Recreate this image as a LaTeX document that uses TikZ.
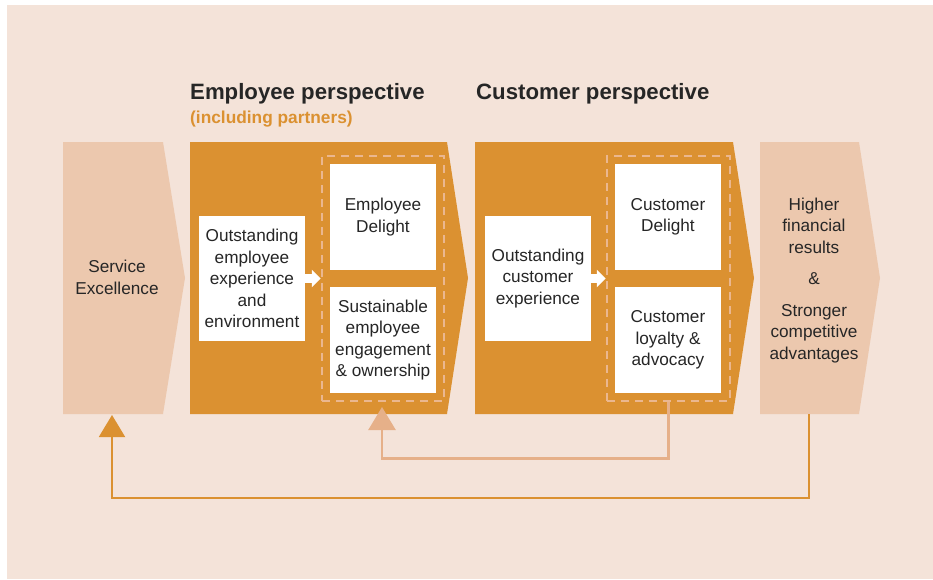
\documentclass[tikz,border=0pt]{standalone}
\usepackage{fontspec}
\setmainfont{Liberation Sans}
\usetikzlibrary{arrows.meta}
\definecolor{bgc}{HTML}{F4E3D9}
\definecolor{orc}{HTML}{DB9131}
\definecolor{lightc}{HTML}{ECC8AE}
\definecolor{dashc}{HTML}{EBB78F}
\definecolor{larrowc}{HTML}{E6B089}
\definecolor{txtc}{HTML}{262626}
\begin{document}
\begin{tikzpicture}[x=1pt,y=-1pt,
  txt/.style={text=txtc, font=\fontsize{17.2}{21.5}\selectfont, align=center, inner sep=0pt},
  wbox/.style={txt, fill=white, minimum width=106pt},
  dashbox/.style={draw=dashc, line width=2.5pt, dash pattern=on 8pt off 6pt, minimum width=122pt, minimum height=245pt, inner sep=0pt},
  warrow/.style={white, line width=8.5pt, -{Triangle[width=17pt,length=9pt]}},
  head/.style={anchor=base west, font=\fontsize{22.2}{26}\selectfont\bfseries, text=txtc, inner sep=0pt},
  fbdark/.style={orc, line width=2pt, -{Triangle[width=26pt,length=22pt]}},
  fblight/.style={larrowc, line width=2.5pt, -{Triangle[width=27pt,length=23pt]}}]
\useasboundingbox (0,0) rectangle (933,579);
\fill[white] (0,0) rectangle (933,579);
\fill[bgc] (7,5) rectangle (933,579);

% chevron blocks
\fill[lightc] (63,142) -- (163,142) -- (185,278) -- (163,414) -- (63,414) -- cycle;
\fill[orc] (190,142) -- (447,142) -- (468,278) -- (447,414) -- (190,414) -- cycle;
\fill[orc] (475,142) -- (733,142) -- (754,278) -- (733,414) -- (475,414) -- cycle;
\fill[lightc] (760,142) -- (859,142) -- (880,278) -- (859,414) -- (760,414) -- cycle;

% headings
\node[head] (h1) at (190,99.5) {Employee perspective};
\node[head, text=orc, font=\fontsize{17.3}{20}\selectfont\bfseries] (h1b) at (190,123.5) {(including partners)};
\node[head] (h2) at (476,99.5) {Customer perspective};

% side texts
\node[txt] (svc) at (117,277.5) {Service\\Excellence};
\node[txt] (res) at (814,280.5) {Higher\\financial\\results\\[10pt]\&\\[10pt]Stronger\\competitive\\advantages};

% employee inner
\node[wbox, minimum height=125pt] (eexp) at (252,278.5) {Outstanding\\employee\\experience\\and\\environment};
\node[dashbox] (edash) at (383,278.5) {};
\node[wbox, minimum height=106pt] (ed) at (383,217) {Employee\\Delight};
\node[wbox, minimum height=106pt] (se) at (383,340) {Sustainable\\employee\\engagement\\\& ownership};
\draw[warrow] (eexp.east) -- (edash.west);

% customer inner
\node[wbox, minimum height=125pt] (cexp) at (538,278.5) {Outstanding\\customer\\experience};
\node[dashbox, minimum width=123pt] (cdash) at (668.5,278.5) {};
\node[wbox, minimum height=106pt] (cd) at (668,217) {Customer\\Delight};
\node[wbox, minimum height=106pt] (cl) at (668,340) {Customer\\loyalty \&\\advocacy};
\draw[warrow] (cexp.east) -- (cdash.west);

% feedback loops
\coordinate (ltip) at (382,407);
\coordinate (rt) at (809,414);
\coordinate (dtip) at (112,415);
\draw[fblight] (cdash.south) -- ++(0,56) -| (ltip);
\draw[fbdark] (rt) -- ++(0,84) -| (dtip);
\end{tikzpicture}
\end{document}
